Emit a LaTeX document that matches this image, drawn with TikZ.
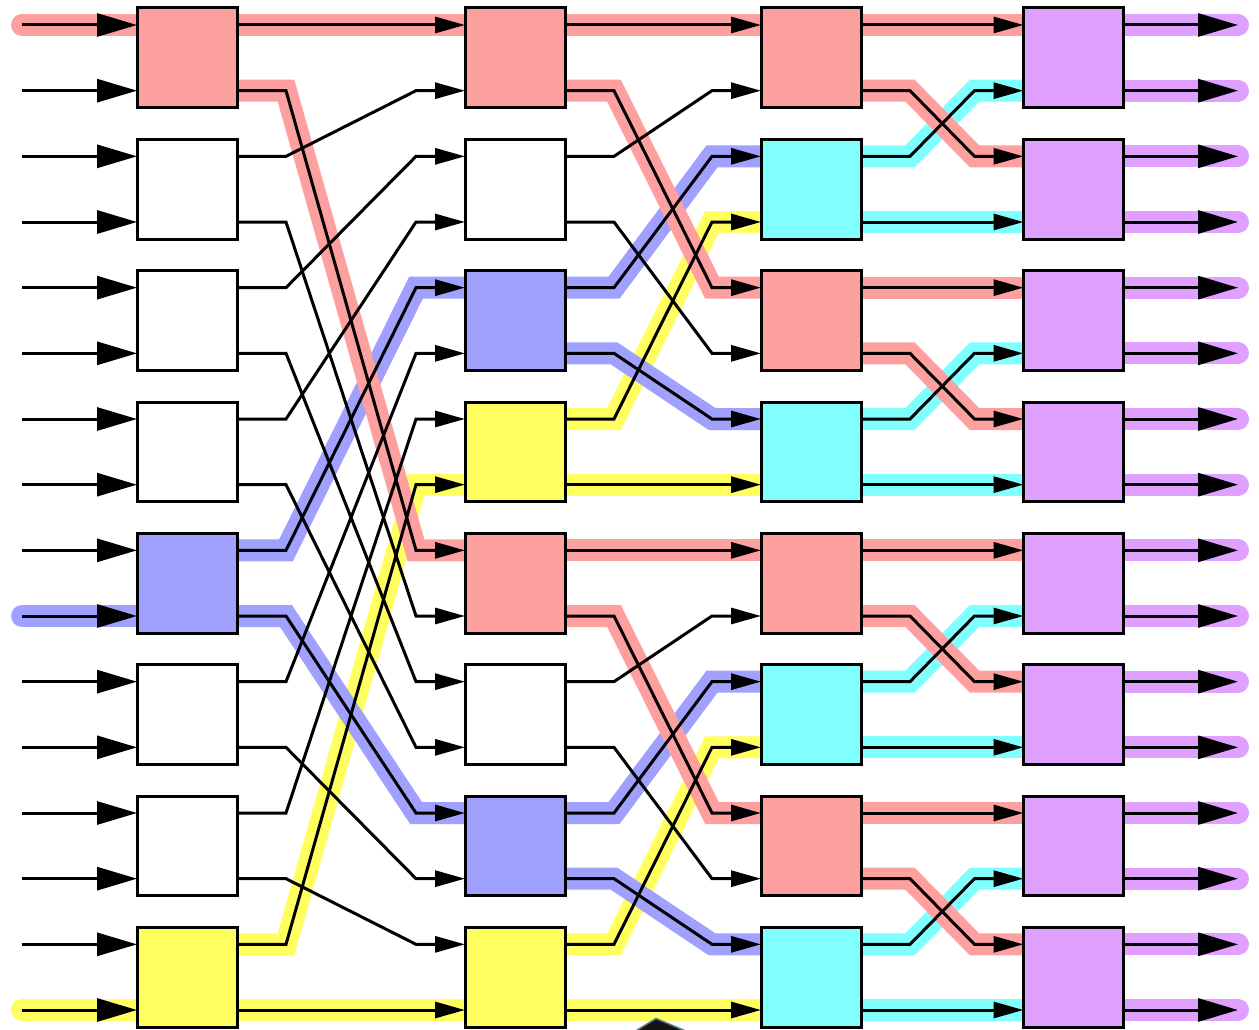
\documentclass[tikz,border=0pt]{standalone}
\usetikzlibrary{arrows.meta}
\definecolor{hpink}{RGB}{255,160,160}
\definecolor{hblue}{RGB}{160,160,255}
\definecolor{hyellow}{RGB}{255,255,96}
\definecolor{hcyan}{RGB}{128,255,255}
\definecolor{hpurple}{RGB}{224,160,255}
\definecolor{cursoredge}{RGB}{90,125,135}
\newcommand\connA[2]{%
  \pgfmathtruncatemacro\qq{8*mod(#2,2)+floor(#2/2)}%
  \draw[#1] (o1-#2) -- ([xshift=49pt]o1-#2) -- ([xshift=-49pt]i2-\qq) -- (i2-\qq);}
\newcommand\connB[2]{%
  \pgfmathtruncatemacro\qq{8*floor(#2/8)+4*mod(mod(#2,8),2)+floor(mod(#2,8)/2)}%
  \draw[#1] (o2-#2) -- ([xshift=49pt]o2-#2) -- ([xshift=-49pt]i3-\qq) -- (i3-\qq);}
\newcommand\connC[2]{%
  \pgfmathtruncatemacro\qq{4*floor(#2/4)+2*mod(#2,2)+floor(mod(#2,4)/2)}%
  \draw[#1] (o3-#2) -- ([xshift=49pt]o3-#2) -- ([xshift=-49pt]i4-\qq) -- (i4-\qq);}
\tikzset{
  wire/.style={line width=3pt, line join=miter, -{Triangle[length=30pt,width=16pt]}},
  iowire/.style={line width=3pt, -{Triangle[length=40pt,width=23pt]}},
  band/.style={line width=22pt, line join=miter},
  endband/.style={line width=22pt, line cap=round},
  switchbox/.style={draw, line width=3pt, minimum width=100pt, minimum height=99.67pt,
    inner sep=0pt, outer sep=0pt},
}
\begin{document}
\begin{tikzpicture}[x=1pt,y=-1pt]
\useasboundingbox (0,0) rectangle (1259,1030);
% ports
\foreach \k in {0,...,15}{
  \pgfmathsetmacro\yy{25+\k*65.6667}
  \coordinate (in-\k) at (22,\yy);
  \coordinate (i1-\k) at (137,\yy);
  \coordinate (o1-\k) at (237,\yy);
  \coordinate (i2-\k) at (465,\yy);
  \coordinate (o2-\k) at (565,\yy);
  \coordinate (i3-\k) at (761,\yy);
  \coordinate (o3-\k) at (861,\yy);
  \coordinate (i4-\k) at (1023.5,\yy);
  \coordinate (o4-\k) at (1123.5,\yy);
  \coordinate (out-\k) at (1238,\yy);
}
% ---- highlight bands: yellow, blue, cyan, pink, purple ----
\draw[endband, hyellow] (in-15) -- (i1-15);
\foreach \p in {14,15}{\connA{band, hyellow}{\p}}
\foreach \p in {6,7,14,15}{\connB{band, hyellow}{\p}}
\draw[endband, hblue] (in-9) -- (i1-9);
\foreach \p in {8,9}{\connA{band, hblue}{\p}}
\foreach \p in {4,5,12,13}{\connB{band, hblue}{\p}}
\foreach \p in {2,3,6,7,10,11,14,15}{\connC{band, hcyan}{\p}}
\draw[endband, hpink] (in-0) -- (i1-0);
\foreach \p in {0,1}{\connA{band, hpink}{\p}}
\foreach \p in {0,1,8,9}{\connB{band, hpink}{\p}}
\foreach \p in {0,1,4,5,8,9,12,13}{\connC{band, hpink}{\p}}
\foreach \k in {0,...,15}{\draw[endband, hpurple] (o4-\k) -- (out-\k);}
% ---- wires ----
\foreach \k in {0,...,15}{
  \draw[iowire] (in-\k) -- (i1-\k);
  \connA{wire}{\k}
  \connB{wire}{\k}
  \connC{wire}{\k}
  \draw[iowire] (o4-\k) -- (out-\k);
}
% ---- switch boxes ----
\foreach \j/\fc in {0/hpink,1/white,2/white,3/white,4/hblue,5/white,6/white,7/hyellow}{
  \pgfmathsetmacro\cy{25+(2*\j+0.5)*65.6667}
  \node[switchbox, fill=\fc] (a-\j) at (187,\cy) {};}
\foreach \j/\fc in {0/hpink,1/white,2/hblue,3/hyellow,4/hpink,5/white,6/hblue,7/hyellow}{
  \pgfmathsetmacro\cy{25+(2*\j+0.5)*65.6667}
  \node[switchbox, fill=\fc] (b-\j) at (515,\cy) {};}
\foreach \j/\fc in {0/hpink,1/hcyan,2/hpink,3/hcyan,4/hpink,5/hcyan,6/hpink,7/hcyan}{
  \pgfmathsetmacro\cy{25+(2*\j+0.5)*65.6667}
  \node[switchbox, fill=\fc] (c-\j) at (811,\cy) {};}
\foreach \j in {0,...,7}{
  \pgfmathsetmacro\cy{25+(2*\j+0.5)*65.6667}
  \node[switchbox, fill=hpurple] (d-\j) at (1073.5,\cy) {};}
% ---- small dark shape at bottom edge ----
\fill[black!92, draw=cursoredge, line width=1.5pt, line join=round]
  (634,1032) -- (656,1018.5) -- (688,1032) -- cycle;
\end{tikzpicture}
\end{document}
